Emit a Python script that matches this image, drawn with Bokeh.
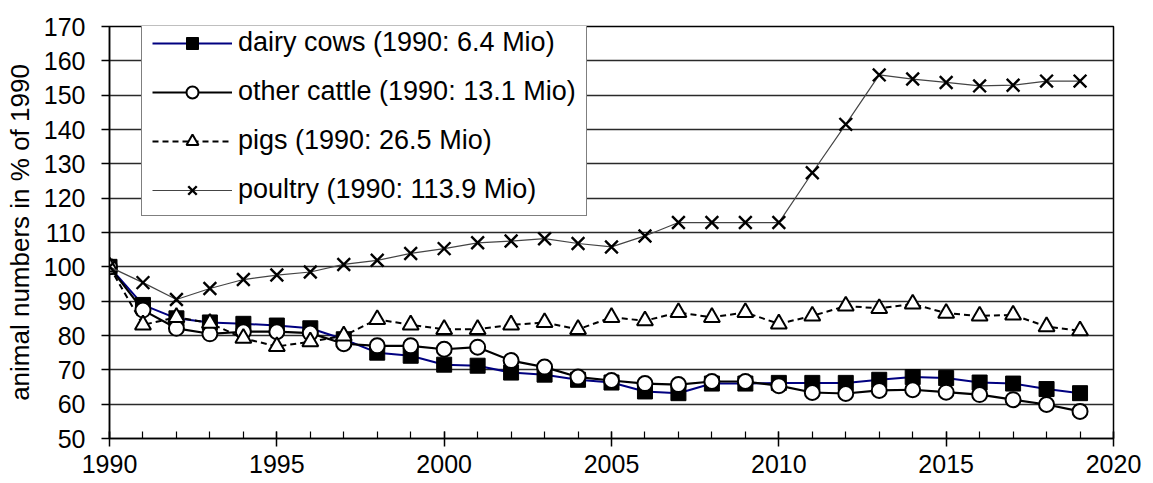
from bokeh.plotting import figure
from bokeh.models import SingleIntervalTicker, Legend, LegendItem, Range1d
from bokeh.embed import file_html
from bokeh.resources import INLINE

years = list(range(1990, 2020))

dairy_cows = [100, 88.9, 85.0, 83.8, 83.4, 82.9, 82.1, 78.9, 75.0, 74.1,
              71.5, 71.2, 69.2, 68.6, 67.1, 66.3, 63.7, 63.2, 66.0, 66.0,
              66.2, 66.2, 66.2, 67.1, 67.9, 67.6, 66.3, 66.0, 64.4, 63.2]
other_cattle = [100, 87.4, 82.1, 80.5, 81.1, 81.1, 80.7, 77.6, 77.0, 77.0,
                76.0, 76.6, 72.7, 70.8, 67.9, 66.9, 66.0, 65.7, 66.6, 66.6,
                65.4, 63.4, 63.1, 64.0, 64.2, 63.5, 62.8, 61.3, 59.9, 57.9]
pigs = [100, 83.1, 85.3, 83.6, 79.2, 76.8, 78.2, 79.9, 84.7, 83.1,
        81.8, 81.8, 83.1, 83.8, 81.8, 85.3, 84.3, 86.7, 85.3, 86.7,
        83.4, 85.7, 88.6, 87.9, 89.2, 86.5, 85.7, 86.0, 82.6, 81.4]
poultry = [100, 95.4, 90.5, 93.7, 96.3, 97.6, 98.5, 100.7, 101.9, 103.9,
           105.3, 107.0, 107.5, 108.2, 106.8, 105.8, 109.0, 112.9, 112.9, 112.9,
           112.9, 127.4, 141.5, 155.9, 154.7, 153.7, 152.7, 152.9, 154.1, 154.1]

labels = ["dairy cows (1990: 6.4 Mio)", "other cattle (1990: 13.1 Mio)",
          "pigs (1990: 26.5 Mio)", "poultry (1990: 113.9 Mio)"]

FONT = "Liberation Sans"

p = figure(frame_width=1004, frame_height=412,
           x_range=Range1d(1990, 2020), y_range=Range1d(50, 170),
           output_backend="svg", toolbar_location=None,
           min_border_left=109, min_border_right=40,
           min_border_top=26, min_border_bottom=45)

p.background_fill_color = "white"
p.border_fill_color = "white"
p.outline_line_color = "black"
p.outline_line_width = 1.5
p.outline_line_alpha = 1

p.xgrid.visible = False
p.ygrid.grid_line_color = "#2a2a2a"
p.ygrid.grid_line_width = 1.5
p.ygrid.ticker = SingleIntervalTicker(interval=10, num_minor_ticks=0)

p.yaxis.ticker = SingleIntervalTicker(interval=10, num_minor_ticks=0)
p.xaxis.ticker = SingleIntervalTicker(interval=5, num_minor_ticks=5)

for ax in (p.xaxis[0], p.yaxis[0]):
    ax.axis_line_color = "black"
    ax.axis_line_width = 1.5
    ax.major_tick_line_color = "black"
    ax.major_tick_line_width = 1.5
    ax.minor_tick_line_color = "black"
    ax.minor_tick_line_width = 1.2
    ax.major_label_text_font = FONT
    ax.major_label_text_font_size = "25px"
    ax.major_label_text_color = "black"

p.yaxis.major_tick_in = 0
p.yaxis.major_tick_out = 8
p.yaxis.minor_tick_in = 0
p.yaxis.minor_tick_out = 0
p.yaxis.major_label_standoff = 16
p.yaxis.axis_label = "animal numbers in % of 1990"
p.yaxis.axis_label_text_font = FONT
p.yaxis.axis_label_text_font_size = "26px"
p.yaxis.axis_label_text_font_style = "normal"
p.yaxis.axis_label_text_color = "black"
p.yaxis.axis_label_standoff = 6

p.xaxis.major_tick_in = 7
p.xaxis.major_tick_out = 8
p.xaxis.minor_tick_in = 7
p.xaxis.minor_tick_out = 0
p.xaxis.major_label_standoff = 8

# dairy cows
l1 = p.line(years, dairy_cows, line_color="#000080", line_width=2)
m1 = p.scatter(years, dairy_cows, marker="square", size=15,
               fill_color="black", line_color="black", line_width=1)
# other cattle
l2 = p.line(years, other_cattle, line_color="black", line_width=2.2)
m2 = p.scatter(years, other_cattle, marker="circle", size=15,
               fill_color="white", line_color="black", line_width=2)
# pigs
l3 = p.line(years, pigs, line_color="black", line_width=2, line_dash="6 4")
m3 = p.scatter(years, pigs, marker="triangle", size=16,
               fill_color="white", line_color="black", line_width=2)
# poultry
l4 = p.line(years, poultry, line_color="#444444", line_width=1.2)
m4 = p.scatter(years, poultry, marker="x", size=18,
               line_color="black", line_width=2.4)

legend = Legend(items=[
    LegendItem(label=labels[0], renderers=[l1, m1]),
    LegendItem(label=labels[1], renderers=[l2, m2]),
    LegendItem(label=labels[2], renderers=[l3, m3]),
    LegendItem(label=labels[3], renderers=[l4, m4]),
], location=(32, 412 - 190))
legend.label_text_font = FONT
legend.label_text_font_size = "27px"
legend.label_text_color = "black"
legend.glyph_width = 80
legend.glyph_height = 30
legend.label_height = 30
legend.label_standoff = 6
legend.padding = 10
legend.spacing = 18
legend.margin = 0
legend.border_line_color = "black"
legend.border_line_width = 1.5
legend.background_fill_color = "white"
legend.background_fill_alpha = 1
p.add_layout(legend)

open("out.html", "w").write(file_html(p, INLINE))
